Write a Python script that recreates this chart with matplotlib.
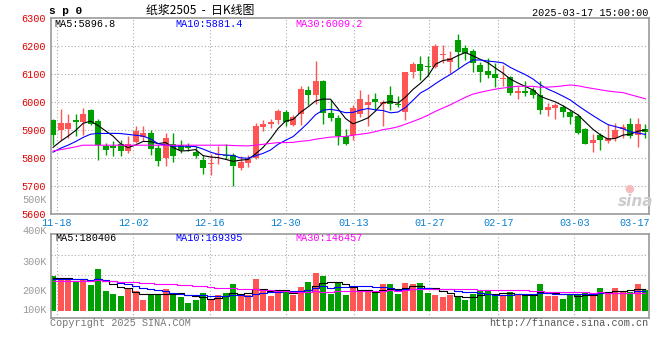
import matplotlib
matplotlib.use("Agg")
import matplotlib.pyplot as plt
import pandas as pd

W, H = 660, 360
MONO = "Liberation Mono"
CJK = ["Noto Sans CJK SC", "DejaVu Sans"]

# daily bars 11-15 .. 03-17
opens = [5933, 5900, 5904, 5936, 5929, 5970, 5932, 5840, 5840, 5850,
         5822, 5857, 5874, 5890, 5833, 5799, 5850, 5845, 5840, 5821,
         5791, 5778, 5810, 5811, 5808, 5762, 5781, 5799, 5908, 5920,
         5933, 5962, 5918, 5957, 6043, 6025, 6073, 5960, 5942, 5879,
         5882, 5957, 5989, 6011, 5993, 6023, 5993, 5962, 6108, 6135,
         6129, 6123, 6168, 6142, 6221, 6192, 6182, 6132, 6111, 6100,
         6081, 6087, 6033, 6039, 6043, 6023, 5971, 5976, 5981, 5963,
         5949, 5901, 5851, 5880, 5860, 5869, 5904, 5921, 5881, 5901]
highs = [5939, 5973, 5957, 5955, 5976, 5973, 5938, 5852, 5860, 5864,
         5876, 5914, 5912, 5900, 5846, 5890, 5890, 5863, 5852, 5842,
         5809, 5812, 5842, 5850, 5816, 5805, 5810, 5924, 5934, 5937,
         5975, 5972, 5954, 6055, 6057, 6146, 6079, 6005, 5954, 5904,
         5989, 6043, 6029, 6031, 6005, 6055, 6019, 6108, 6144, 6164,
         6164, 6207, 6204, 6182, 6243, 6204, 6188, 6144, 6156, 6138,
         6132, 6092, 6055, 6073, 6052, 6076, 5996, 5996, 5990, 5969,
         5955, 5907, 5883, 5890, 5919, 5925, 5921, 5943, 5943, 5919]
lows = [5845, 5863, 5871, 5877, 5881, 5918, 5792, 5811, 5807, 5805,
        5815, 5852, 5861, 5811, 5771, 5769, 5785, 5818, 5825, 5800,
        5741, 5738, 5776, 5794, 5697, 5757, 5768, 5795, 5895, 5905,
        5920, 5915, 5912, 5918, 5989, 5993, 5921, 5930, 5847, 5845,
        5864, 5945, 5912, 5971, 5914, 5971, 5983, 5936, 6085, 6079,
        6091, 6120, 6138, 6102, 6120, 6150, 6108, 6070, 6085, 6052,
        6055, 6025, 6010, 6019, 6014, 5958, 5949, 5940, 5945, 5919,
        5883, 5848, 5820, 5829, 5854, 5860, 5871, 5871, 5838, 5871]
closes = [5880, 5923, 5923, 5929, 5958, 5921, 5845, 5827, 5834, 5823,
          5849, 5894, 5890, 5831, 5787, 5869, 5807, 5826, 5836, 5806,
          5762, 5782, 5814, 5806, 5770, 5783, 5794, 5914, 5921, 5926,
          5966, 5926, 5945, 6046, 6025, 6073, 5960, 5942, 5876, 5850,
          5977, 6011, 5998, 5998, 6001, 5992, 5988, 6105, 6135, 6112,
          6123, 6198, 6171, 6156, 6180, 6176, 6140, 6106, 6096, 6085,
          6085, 6033, 6037, 6033, 6024, 5970, 5981, 5990, 5963, 5945,
          5887, 5850, 5862, 5863, 5871, 5898, 5910, 5877, 5919, 5893]
volumes = [290, 262, 262, 239, 262, 214, 348, 164, 139, 122,
           178, 164, 89, 139, 139, 181, 150, 114, 64, 89,
           148, 89, 128, 148, 223, 128, 128, 264, 170, 125,
           164, 156, 128, 198, 239, 315, 290, 139, 237, 131,
           192, 159, 159, 150, 223, 223, 139, 231, 223, 231,
           145, 131, 114, 131, 114, 89, 139, 170, 173, 122,
           122, 159, 139, 128, 125, 223, 122, 122, 97, 139,
           142, 145, 139, 189, 156, 189, 159, 159, 223, 173]  # thousand lots

# sessions before the window, back-solved from where the MA lines enter the chart
prior_closes = [5770, 5780, 5775, 5779, 5921, 5845, 5827, 5834, 5823, 5849,
                5894, 5890, 5831, 5787, 5869, 5807, 5826, 5836, 5806, 5762,
                5782, 5814, 5800, 5810, 5806, 5815, 5830, 5829, 5830]
prior_volumes = [244, 240, 248, 246, 243, 245, 241, 247, 244, 242,
                 246, 244, 243, 245, 247, 242, 244, 246, 243, 245,
                 250, 248, 252, 249, 251, 266, 272, 268, 270]

# latest MA readouts printed in the panel headers
price_ma_last = [5896.8, 5881.4, 6009.2]
vol_ma_last = [180406, 169395, 146457]

date_labels = ["11-18", "12-02", "12-16", "12-30", "01-13",
               "01-27", "02-17", "03-03", "03-17"]
date_pos = [0.53, 10.67, 20.87, 31.0, 40.07, 50.17, 59.4, 69.53, 77.6]

RED, GREEN = "#ff5555", "#00a000"
MA_N = [5, 10, 30]
MA_COLORS = ["black", "#0000ff", "#ff00ff"]
GRID = dict(color="#aaaaaa", lw=0.8, linestyle=(0, (1, 2)))


def ma(prior, vals, n):
    s = pd.Series(list(prior) + list(vals), dtype=float)
    return s.rolling(n).mean().iloc[len(prior):].to_numpy()


def px_rect(left, top, right, bottom):
    return [left / W, 1 - bottom / H, (right - left) / W, (bottom - top) / H]


n = len(closes)
x = list(range(n))
colors = [RED if c >= o else GREEN for o, c in zip(opens, closes)]

fig = plt.figure(figsize=(W / 100, H / 100), dpi=100)
ax = fig.add_axes(px_rect(51, 18, 649, 213.5))
axv = fig.add_axes(px_rect(51, 234, 649, 318))

for a in (ax, axv):
    a.set_xlim(-0.27, 79.47)
    for s in a.spines.values():
        s.set_color("#999999")
        s.set_linewidth(1.2)
    for gx in date_pos[:-1]:
        a.axvline(gx, zorder=0, **GRID)

# price panel
ax.set_ylim(5600, 6300)
for lvl in range(5700, 6300, 100):
    ax.axhline(lvl, zorder=0, **GRID)
ax.vlines(x, lows, highs, colors=colors, lw=1, zorder=2)
bodies = [max(abs(c - o), 3) for o, c in zip(opens, closes)]
ax.bar(x, bodies, bottom=[min(o, c) for o, c in zip(opens, closes)],
       width=0.8, color=colors, zorder=3)
for k, col in zip(MA_N, MA_COLORS):
    ax.plot(x, ma(prior_closes, closes, k), color=col, lw=0.8, zorder=4)

ax.set_yticks(range(5600, 6301, 100))
ax.set_yticklabels([str(v) for v in range(5600, 6301, 100)],
                   color="#e00000", fontfamily=MONO, fontsize=7.3)
ax.tick_params(axis="y", length=0, pad=4)
ax.set_xticks(date_pos)
ax.set_xticklabels(date_labels, color="#0a80d0", fontfamily=MONO, fontsize=7.3)
ax.tick_params(axis="x", length=0, pad=3)

# volume panel
axv.set_ylim(-61, 641)
for lvl in (298, 465):
    axv.axhline(lvl, zorder=0, **GRID)
axv.bar(x, volumes, width=0.8, color=colors, zorder=2)
for k, col in zip(MA_N, MA_COLORS):
    axv.plot(x, ma(prior_volumes, volumes, k), color=col, lw=0.8,
             drawstyle="steps-mid", zorder=3)
axv.set_xticks([])
axv.set_yticks([])


def ftext(px, py, s, **kw):
    kw.setdefault("fontfamily", MONO)
    kw.setdefault("fontsize", 7.3)
    fig.text(px / W, 1 - py / H, s, va="center", **kw)


ftext(49, 11, "s p 0", fontweight="bold", fontsize=8)
ftext(200, 10, "纸浆2505  -  日K线图", ha="center", fontfamily=CJK, fontsize=8.6)
ftext(648, 12.5, "2025-03-17 15:00:00", ha="right")

for k, col, v, px in zip(MA_N, MA_COLORS, price_ma_last, (54, 175, 295)):
    ftext(px, 24, f"MA{k}:{v:.1f}", color=col)
for k, col, v, px in zip(MA_N, MA_COLORS, vol_ma_last, (55, 175, 295)):
    ftext(px, 238, f"MA{k}:{v}", color=col)

for lab, py in (("500K", 200), ("400K", 230.7), ("300K", 261.7),
                ("200K", 290.7), ("100K", 310)):
    ftext(47, py, lab, ha="right", color="#999999")

ftext(50, 323.5, "Copyright 2025 SINA.COM", color="#777777")
ftext(648, 323.5, "http://finance.sina.com.cn", ha="right", color="#555555")

# watermark
ftext(636, 201, "sina", ha="center", fontfamily="DejaVu Sans", fontsize=11,
      fontstyle="italic", fontweight="bold", color="#cccccc")
ftext(629, 189, "●", ha="center", fontfamily="DejaVu Sans", fontsize=8,
      color="#f4bcbc")

fig.savefig("out.png", dpi=100)
